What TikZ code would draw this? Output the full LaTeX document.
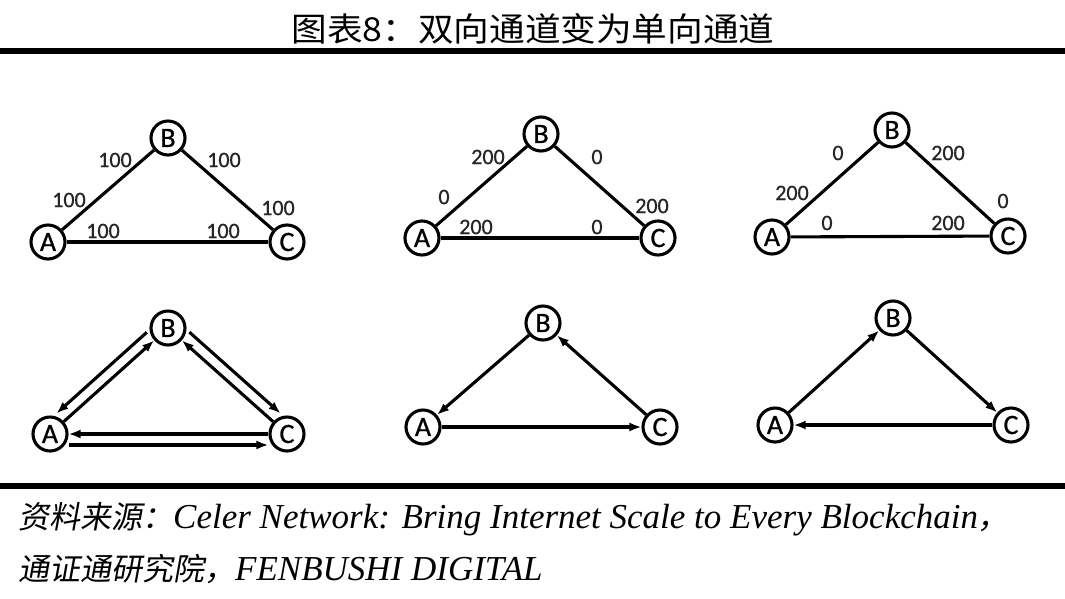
\documentclass[tikz,border=0pt]{standalone}
\usepackage{fontspec}
\setmainfont{Liberation Serif}
\newfontfamily\cjk{Noto Sans CJK SC}
\newfontfamily\cjksl[FakeSlant=0.18]{Noto Sans CJK SC}
\newfontfamily\lab[FakeBold=0.8]{Carlito}
\newcommand{\fcjk}[1]{{\cjksl\fontsize{31}{31}\selectfont #1}}
\usetikzlibrary{arrows.meta,calc}
\begin{document}
\begin{tikzpicture}[x=1pt,y=1pt,
  vtx/.style={circle,draw,line width=3.1pt,minimum size=34pt,inner sep=0pt,fill=white,font=\lab\fontsize{28}{28}\selectfont},
  edge/.style={line width=3.1pt},
  arr/.style={line width=3.1pt,-{Latex[length=12pt,width=9pt]}},
  lbl/.style={font=\lab\fontsize{22}{22}\selectfont,text=black!85,inner sep=0pt},
  rulebar/.style={fill=black},
  foot/.style={anchor=base west,inner sep=0pt,font=\fontsize{35}{35}\selectfont\itshape},
]
\useasboundingbox (0,0) rectangle (1065,-598);
\fill[white] (0,0) rectangle (1065,-598);
% title
\node[inner sep=0pt,anchor=base,xscale=1.08] (title) at (533,-41) {\cjk\fontsize{33}{33}\selectfont 图表8：双向通道变为单向通道};
\fill[rulebar] (0,-48) rectangle (1065,-54);
\fill[rulebar] (0,-483) rectangle (1065,-489);
% footer
\node[foot] (f1) at (18,-528) {\fcjk{资料来源：}Celer Network: Bring Internet Scale to Every Blockchain\fcjk{，}};
\node[foot] (f2) at (18,-580) {\fcjk{通证通研究院，}FENBUSHI DIGITAL};

% graph 1
\node[vtx] (A1) at (48,-242) {A};
\node[vtx] (B1) at (168,-138) {B};
\node[vtx] (C1) at (287,-242) {C};
\draw[edge] (A1) -- (B1);
\draw[edge] (B1) -- (C1);
\draw[edge] (A1) -- (C1);
\node[lbl] (l11) at (115,-160) {100};
\node[lbl] (l12) at (224,-160) {100};
\node[lbl] (l13) at (69,-200) {100};
\node[lbl] (l14) at (278,-208) {100};
\node[lbl] (l15) at (103,-231) {100};
\node[lbl] (l16) at (223,-231) {100};

% graph 2
\node[vtx] (A2) at (422,-238) {A};
\node[vtx] (B2) at (541,-134) {B};
\node[vtx] (C2) at (658,-238) {C};
\draw[edge] (A2) -- (B2);
\draw[edge] (B2) -- (C2);
\draw[edge] (A2) -- (C2);
\node[lbl] (l21) at (488,-157) {200};
\node[lbl] (l22) at (597,-157) {0};
\node[lbl] (l23) at (444,-197) {0};
\node[lbl] (l24) at (652,-206) {200};
\node[lbl] (l25) at (476,-227) {200};
\node[lbl] (l26) at (597,-227) {0};

% graph 3
\node[vtx] (A3) at (772,-237) {A};
\node[vtx] (B3) at (892,-130) {B};
\node[vtx] (C3) at (1008,-236) {C};
\draw[edge] (A3) -- (B3);
\draw[edge] (B3) -- (C3);
\draw[edge] (A3) -- (C3);
\node[lbl] (l31) at (838,-153) {0};
\node[lbl] (l32) at (948,-153) {200};
\node[lbl] (l33) at (792,-193) {200};
\node[lbl] (l34) at (1003,-201) {0};
\node[lbl] (l35) at (827,-223) {0};
\node[lbl] (l36) at (948,-223) {200};

% graph 4
\node[vtx] (A4) at (50,-434) {A};
\node[vtx] (B4) at (168,-328) {B};
\node[vtx] (C4) at (287,-434) {C};
\draw[arr] (A4) -- (B4);
\draw[arr] (C4) -- (B4);
\draw[arr] (C4) -- (A4);
\draw[arr,transform canvas={shift={(-7.4,8.1)}}] (B4) -- (A4);
\draw[arr,transform canvas={shift={(7.5,8.2)}}] (B4) -- (C4);
\draw[arr,transform canvas={shift={(0,-11)}}] (A4) -- (C4);

% graph 5
\node[vtx] (A5) at (423,-427) {A};
\node[vtx] (B5) at (543,-323) {B};
\node[vtx] (C5) at (660,-427) {C};
\draw[arr] (B5) -- (A5);
\draw[arr] (A5) -- (C5);
\draw[arr] (C5) -- (B5);

% graph 6
\node[vtx] (A6) at (775,-425) {A};
\node[vtx] (B6) at (893,-318) {B};
\node[vtx] (C6) at (1011,-425) {C};
\draw[arr] (A6) -- (B6);
\draw[arr] (B6) -- (C6);
\draw[arr] (C6) -- (A6);
\end{tikzpicture}
\end{document}
